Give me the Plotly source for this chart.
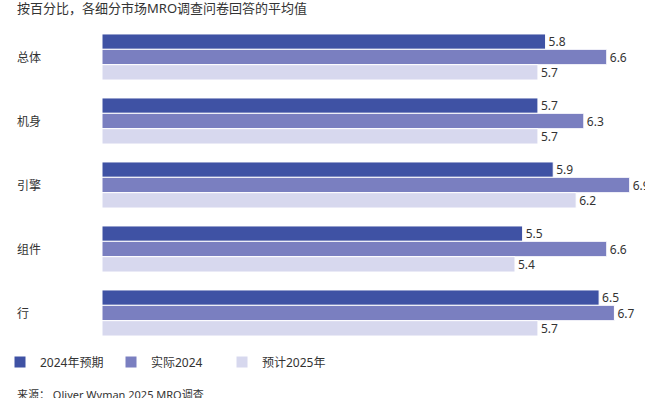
import plotly.graph_objects as go

categories = ["总体", "机身", "引擎", "组件", "行"]
series_names = ["2024年预期", "实际2024", "预计2025年"]
expected_2024 = [5.8, 5.7, 5.9, 5.5, 6.5]
actual_2024 = [6.6, 6.3, 6.9, 6.6, 6.7]
forecast_2025 = [5.7, 5.7, 6.2, 5.4, 5.7]
colors = ["#3f52a4", "#7a7fc0", "#d7d8ee"]

title_text = "按百分比，各细分市场MRO调查问卷回答的平均值"
source_text = "来源： Oliver Wyman 2025 MRO调查"

FONT = "Noto Sans, Noto Sans CJK SC, sans-serif"

fig = go.Figure()
for name, vals, col in zip(series_names, [expected_2024, actual_2024, forecast_2025], colors):
    fig.add_trace(go.Bar(
        y=categories, x=vals, name=name, orientation="h",
        marker=dict(color=col, line=dict(color="white", width=1)),
        text=[f"{v:.1f}" for v in vals], textposition="outside",
        textfont=dict(family=FONT, size=12, color="#333333"),
        cliponaxis=False, constraintext="none",
    ))

W, H = 645, 398
L, R, T, B = 102, 0, 25, 53
PW, PH = W - L - R, H - T - B


def px_x(x):
    return (x - L) / PW


def px_y(y):
    return (H - B - y) / PH


ann = [
    dict(text=title_text, xref="paper", yref="paper",
         x=px_x(15), y=px_y(8), xanchor="left", yanchor="middle", showarrow=False,
         font=dict(family=FONT, size=13, color="#333333")),
    dict(text=source_text, xref="paper", yref="paper",
         x=px_x(15), y=px_y(394), xanchor="left", yanchor="middle", showarrow=False,
         font=dict(family=FONT, size=11, color="#333333")),
]
for c in categories:
    ann.append(dict(
        text=c, xref="paper", yref="y", x=px_x(15), y=c,
        xanchor="left", yanchor="middle", showarrow=False,
        font=dict(family=FONT, size=12, color="#333333"),
    ))

fig.update_layout(
    width=W, height=H,
    margin=dict(l=L, r=R, t=T, b=B, pad=0, autoexpand=False),
    paper_bgcolor="white", plot_bgcolor="white",
    barmode="group", bargap=0.28, bargroupgap=0,
    xaxis=dict(range=[0, 7.1], visible=False, fixedrange=True),
    yaxis=dict(autorange="reversed", showticklabels=False, showgrid=False,
               zeroline=False, showline=False, ticks="", fixedrange=True),
    showlegend=True,
    legend=dict(orientation="h", xref="container", yref="container",
                x=0, y=1 - 362 / H,
                xanchor="left", yanchor="middle", traceorder="normal",
                font=dict(family=FONT, size=12, color="#333333"),
                itemwidth=30, entrywidth=66, entrywidthmode="pixels"),
    annotations=ann,
    font=dict(family=FONT),
    hovermode=False,
)

fig.write_html("out.html", config={"displayModeBar": False},
               post_script="document.body.style.margin='0';document.body.style.overflow='hidden';")
